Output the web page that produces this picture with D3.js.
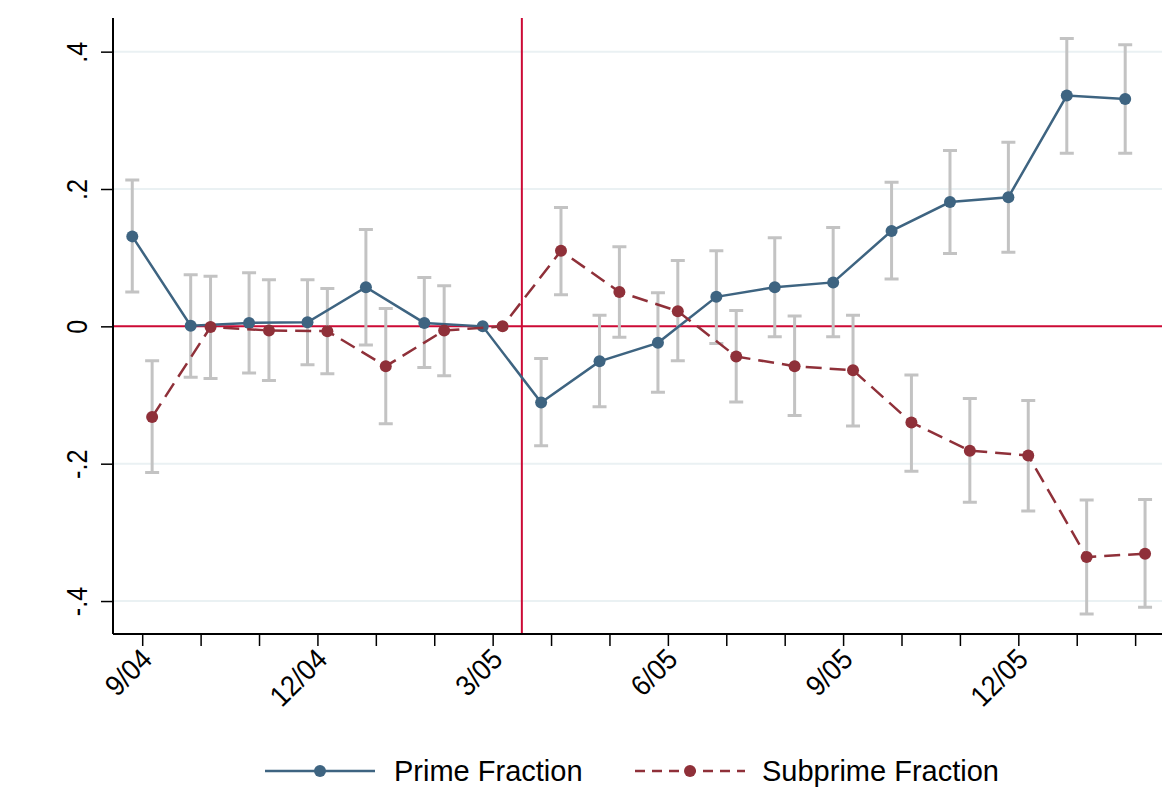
<!DOCTYPE html>
<html>
<head>
<meta charset="utf-8">
<script src="https://cdn.jsdelivr.net/npm/d3@7"></script>
<style>
  body { margin: 0; background: #fff; }
  text { font-family: "Liberation Sans", Arial, sans-serif; }
</style>
</head>
<body>
<svg width="1164" height="788"></svg>
<script>
// DATA
const months = ["9/04","10/04","11/04","12/04","1/05","2/05","3/05","4/05","5/05","6/05",
                "7/05","8/05","9/05","10/05","11/05","12/05","1/06","2/06"];
const tickLabels = ["9/04","12/04","3/05","6/05","9/05","12/05"];
const yTicks = [-0.4, -0.2, 0, 0.2, 0.4];
const yTickLabels = ["-.4", "-.2", "0", ".2", ".4"];

const prime   = [0.131, 0.001, 0.005, 0.006, 0.057, 0.005, 0, -0.111, -0.051, -0.024, 0.043, 0.057, 0.064, 0.139, 0.181, 0.188, 0.336, 0.331];
const primeLo = [0.050, -0.074, -0.068, -0.056, -0.027, -0.060, null, -0.174, -0.117, -0.096, -0.025, -0.015, -0.015, 0.069, 0.106, 0.108, 0.252, 0.252];
const primeHi = [0.213, 0.075, 0.078, 0.068, 0.141, 0.071, null, -0.047, 0.016, 0.049, 0.110, 0.129, 0.144, 0.210, 0.256, 0.268, 0.419, 0.410];

const sub   = [-0.132, -0.001, -0.006, -0.007, -0.058, -0.006, 0, 0.110, 0.050, 0.022, -0.044, -0.058, -0.064, -0.140, -0.181, -0.188, -0.336, -0.331];
const subLo = [-0.213, -0.076, -0.079, -0.069, -0.142, -0.072, null, 0.046, -0.016, -0.050, -0.110, -0.130, -0.145, -0.211, -0.256, -0.269, -0.419, -0.409];
const subHi = [-0.050, 0.073, 0.068, 0.055, 0.026, 0.059, null, 0.173, 0.116, 0.096, 0.023, 0.015, 0.016, -0.071, -0.105, -0.108, -0.253, -0.252];

const eventMonth = 6.5; // vertical line between 3/05 and 4/05

const svg = d3.select("svg");
const plotLeft = 113, plotRight = 1162, plotTop = 18, plotBottom = 634;

const primeColor = "#3e6481";
const subColor = "#8f3039";
const refColor = "#cc0a35";
const ciColor = "#c3c3c3";

// SCALES
const x = d3.scaleLinear().domain([-0.5, 17.46]).range([plotLeft, plotRight]);
const y = d3.scaleLinear().domain([-0.448, 0.449]).range([plotBottom, plotTop]);

const series = [
  { name: "Prime Fraction", v: prime, lo: primeLo, hi: primeHi, off: -0.17, color: primeColor, dash: null },
  { name: "Subprime Fraction", v: sub, lo: subLo, hi: subHi, off: 0.17, color: subColor, dash: "16,8" }
];

// GRID
svg.append("g").selectAll("line")
  .data(yTicks.filter(d => d !== 0))
  .enter().append("line")
  .attr("x1", plotLeft).attr("x2", plotRight)
  .attr("y1", d => y(d)).attr("y2", d => y(d))
  .attr("stroke", "#eaf1f3").attr("stroke-width", 2);

// REFERENCE LINES
svg.append("line")
  .attr("x1", plotLeft).attr("x2", plotRight)
  .attr("y1", y(0)).attr("y2", y(0))
  .attr("stroke", refColor).attr("stroke-width", 2);
svg.append("line")
  .attr("x1", x(eventMonth)).attr("x2", x(eventMonth))
  .attr("y1", plotTop).attr("y2", plotBottom)
  .attr("stroke", refColor).attr("stroke-width", 2);

// ERROR BARS
series.forEach(s => {
  const idx = d3.range(months.length).filter(i => s.lo[i] !== null);
  const g = svg.append("g").attr("stroke", ciColor).attr("stroke-width", 3).attr("fill", "none");
  g.selectAll("path").data(idx).enter().append("path")
    .attr("d", i => {
      const cx = x(i + s.off), y1 = y(s.lo[i]), y2 = y(s.hi[i]);
      return `M${cx - 7},${y2}H${cx + 7}M${cx},${y2}V${y1}M${cx - 7},${y1}H${cx + 7}`;
    });
});

// LINES + DOTS
series.forEach(s => {
  const line = d3.line().x((d, i) => x(i + s.off)).y(d => y(d));
  svg.append("path")
    .datum(s.v)
    .attr("d", line)
    .attr("fill", "none")
    .attr("stroke", s.color)
    .attr("stroke-width", 2.5)
    .attr("stroke-dasharray", s.dash);
  svg.append("g").selectAll("circle")
    .data(s.v).enter().append("circle")
    .attr("cx", (d, i) => x(i + s.off))
    .attr("cy", d => y(d))
    .attr("r", 6)
    .attr("fill", s.color);
});

// AXES
const yAxis = d3.axisLeft(y).tickValues(yTicks).tickSize(12)
  .tickFormat((d, i) => yTickLabels[i]);
const gy = svg.append("g").attr("transform", `translate(${plotLeft},0)`).call(yAxis);
gy.select(".domain").attr("stroke", "#000").attr("stroke-width", 2)
  .attr("d", `M0,${plotTop}V${plotBottom}`);
gy.selectAll(".tick line").attr("stroke", "#000").attr("stroke-width", 1.5);
gy.selectAll(".tick text")
  .attr("x", null).attr("dy", null)
  .attr("transform", "translate(-26,0) rotate(-90) scale(0.84,1)")
  .attr("text-anchor", "middle")
  .attr("font-size", 30)
  .attr("fill", "#000");

const xAxis = d3.axisBottom(x).tickValues(d3.range(months.length)).tickSize(12)
  .tickFormat(i => tickLabels.includes(months[i]) ? months[i] : "");
const gx = svg.append("g").attr("transform", `translate(0,${plotBottom})`).call(xAxis);
gx.select(".domain").attr("stroke", "#000").attr("stroke-width", 2)
  .attr("d", `M${plotLeft},0H${plotRight}`);
gx.selectAll(".tick line").attr("stroke", "#000").attr("stroke-width", 1.5);
gx.selectAll(".tick text")
  .attr("y", null).attr("dy", null)
  .attr("transform", "translate(11,27) rotate(-45) scale(0.92,1)")
  .attr("text-anchor", "end")
  .attr("font-size", 29)
  .attr("fill", "#000");
svg.selectAll(".domain").attr("fill", "none");

// LEGEND
const legend = svg.append("g").attr("transform", "translate(0,771)");
const legendX = [265, 635];
series.forEach((s, k) => {
  const g = legend.append("g").attr("transform", `translate(${legendX[k]},0)`);
  g.append("line").attr("x1", 0).attr("x2", 110)
    .attr("stroke", s.color).attr("stroke-width", 2.5)
    .attr("stroke-dasharray", k === 0 ? null : "10,7");
  g.append("circle").attr("cx", 55).attr("r", 6).attr("fill", s.color);
  g.append("text").attr("x", k === 0 ? 129 : 127).attr("y", 10)
    .attr("font-size", 29).attr("fill", "#000").text(s.name);
});
</script>
</body>
</html>
